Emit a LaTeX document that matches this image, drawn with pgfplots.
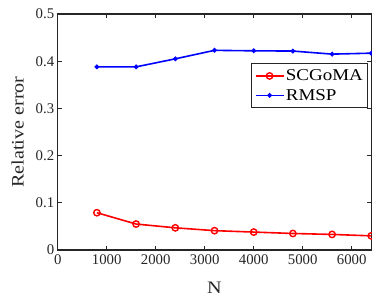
\documentclass[border=0pt]{standalone}
\usepackage{pgfplots}
\pgfplotsset{compat=1.18}
\usepackage{fontspec}
\setmainfont{Liberation Serif}
\newfontfamily\wideserif[FakeStretch=1.15]{Liberation Serif}
\usetikzlibrary{calc}
\definecolor{axgray}{HTML}{262626}
\begin{document}
\begin{tikzpicture}
\begin{axis}[
  scale only axis, width=313.6pt, height=236pt,
  xmin=0, xmax=6400, ymin=0, ymax=0.5,
  xtick={0,1000,2000,3000,4000,5000,6000},
  ytick={0,0.1,0.2,0.3,0.4,0.5},
  scaled x ticks=false,
  /pgf/number format/1000 sep={},
  /pgf/number format/assume math mode=true,
  tick align=inside,
  major tick length=4pt,
  axis line style={axgray, line width=1.3pt},
  every tick/.style={axgray, line width=1.3pt},
  tick label style={text=axgray, font=\fontsize{14.8}{17}\selectfont},
  xticklabel style={yshift=-1pt},
  label style={text=axgray, font=\wideserif\fontsize{17.5}{19}\selectfont},
  xlabel={N}, ylabel={Relative error},
  xlabel style={yshift=-11pt},
  ylabel style={yshift=5pt},
  legend style={at={(0.9895,0.792)}, anchor=north east, draw=axgray, line width=1.3pt,
    fill=white, font=\wideserif\fontsize{16.5}{18}\selectfont, inner xsep=3pt, inner ysep=2.5pt,
    row sep=0pt, nodes={inner xsep=1.5pt, inner ysep=3.5pt}},
  legend cell align=left,
  legend image code/.code={\draw[mark repeat=2,mark phase=2] plot coordinates {(0pt,0pt) (14pt,0pt) (28pt,0pt)};},
]
\addplot[red, line width=1.6pt, mark=o, mark size=3.2pt, mark options={line width=1.4pt}] coordinates {
(800,0.079) (1600,0.055) (2400,0.047) (3200,0.041) (4000,0.038) (4800,0.035) (5600,0.033) (6400,0.030)};
\addlegendentry{SCGoMA}
\addplot[blue, line width=1.6pt, mark=*, mark size=1.5pt] coordinates {
(800,0.388) (1600,0.388) (2400,0.405) (3200,0.423) (4000,0.422) (4800,0.4215) (5600,0.415) (6400,0.417)};
\addlegendentry{RMSP}
\end{axis}
\pgfresetboundingbox
\path[use as bounding box] ($(current axis.south west)+(-57.7pt,-47pt)$) rectangle ($(current axis.north east)+(0.7pt,14pt)$);
\end{tikzpicture}
\end{document}
